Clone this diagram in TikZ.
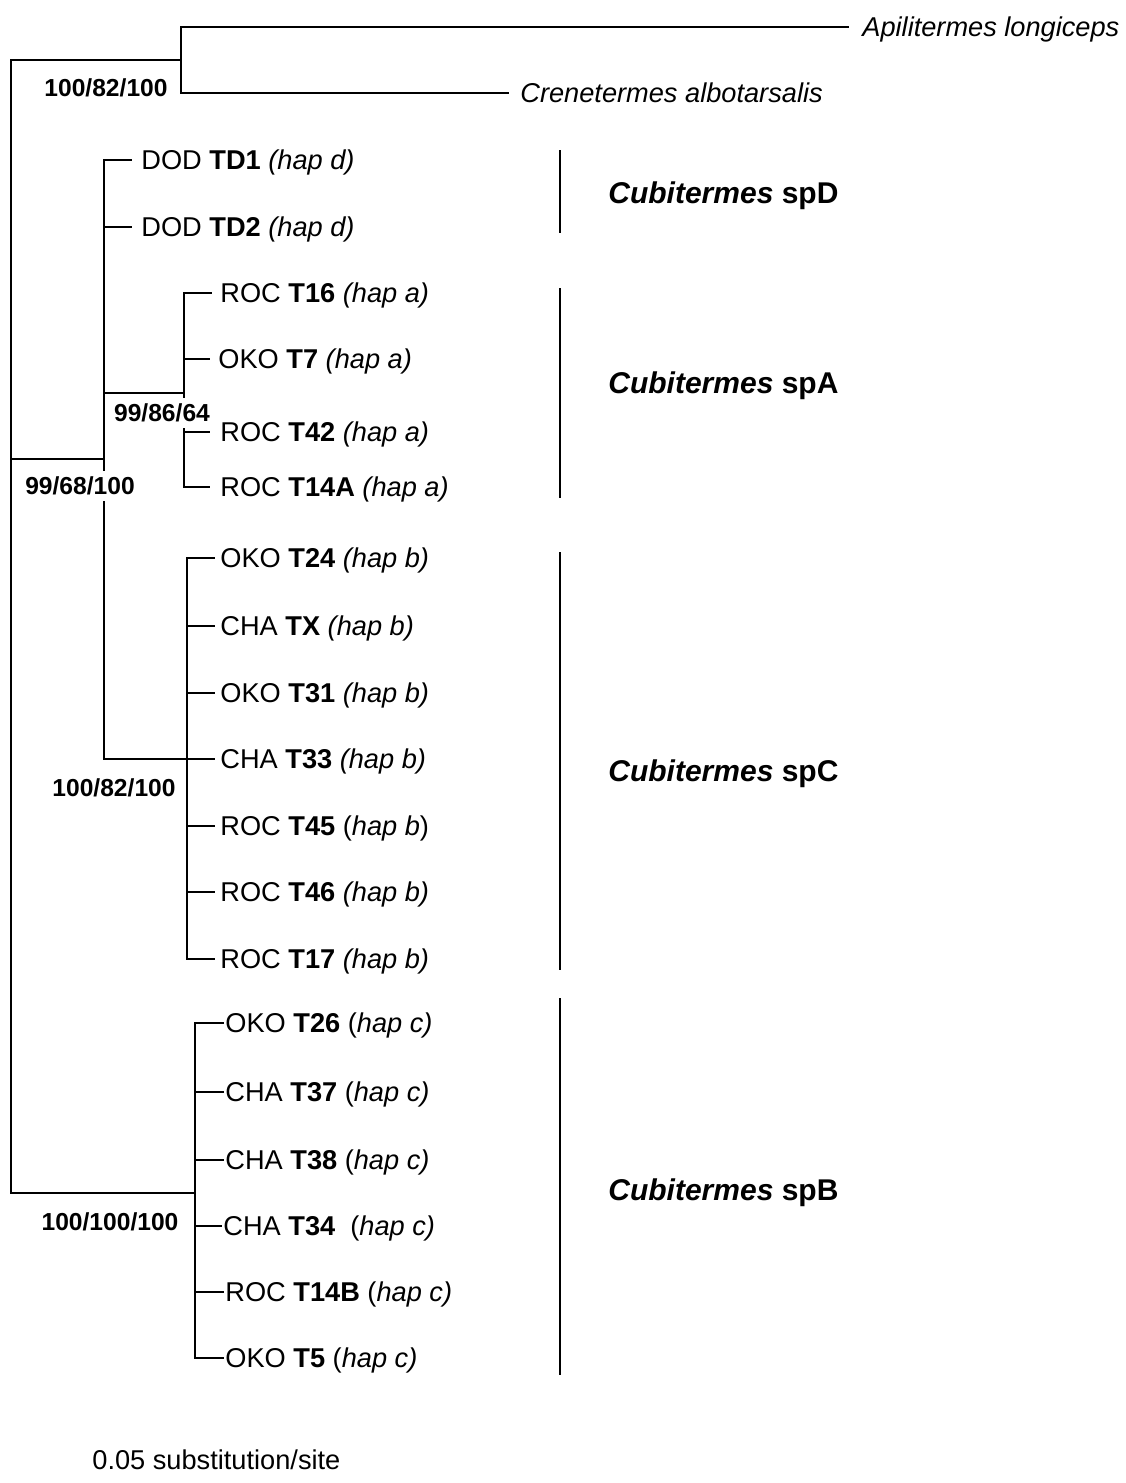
\documentclass[tikz,border=0pt]{standalone}
\usepackage{fontspec}
\setmainfont{Liberation Sans}
\usetikzlibrary{positioning}
\tikzset{branch/.style={line width=1.1pt, line cap=rect}, clade/.style={line width=1.1pt}, taxon/.style={font=\fontsize{13.6}{16}\selectfont, inner sep=0pt, text height=9.8pt, text depth=0pt, anchor=west}, boot/.style={font=\fontsize{12.3}{14}\selectfont\bfseries, fill=white, inner xsep=1pt, inner ysep=3pt, text height=8.8pt, text depth=0pt}, spname/.style={font=\fontsize{15}{18}\selectfont\bfseries, inner sep=0pt, text height=10.8pt, text depth=0pt, anchor=west}}

\begin{document}
\begin{tikzpicture}[x=0.5pt, y=-0.5pt]
\useasboundingbox (0,0) rectangle (1125,1483);
% inner nodes of the tree
\coordinate (root) at (11,459); \coordinate (out) at (181,60); \coordinate (ing) at (104,459);
\coordinate (nA) at (184,393); \coordinate (nC) at (187,759); \coordinate (nB) at (195,1193);
% branch tips
\coordinate (apiT) at (848,27); \coordinate (creT) at (508,93);
\coordinate (td1T) at (131,160); \coordinate (td2T) at (131,227);
\coordinate (t16T) at (211,293); \coordinate (t7T) at (209,359); \coordinate (t42T) at (209,432); \coordinate (t14aT) at (209,487);
\coordinate (t24T) at (214,558); \coordinate (txT) at (214,626); \coordinate (t31T) at (214,693); \coordinate (t33T) at (214,759);
\coordinate (t45T) at (214,826); \coordinate (t46T) at (214,892); \coordinate (t17T) at (214,959);
\coordinate (t26T) at (223,1023); \coordinate (t37T) at (223,1092); \coordinate (t38T) at (223,1160); \coordinate (t34T) at (221,1226);
\coordinate (t14bT) at (223,1292); \coordinate (t5T) at (223,1358);
% branches
\draw[branch] (root) |- (out); \draw[branch] (root) |- (ing); \draw[branch] (root) |- (nB);
\draw[branch] (out) |- (apiT); \draw[branch] (out) |- (creT);
\draw[branch] (ing) |- (td1T); \draw[branch] (ing) |- (td2T); \draw[branch] (ing) |- (nA); \draw[branch] (ing) |- (nC);
\draw[branch] (nA) |- (t16T); \draw[branch] (nA) |- (t7T); \draw[branch] (nA) |- (t42T); \draw[branch] (nA) |- (t14aT);
\draw[branch] (nC) |- (t24T); \draw[branch] (nC) |- (txT); \draw[branch] (nC) |- (t31T); \draw[branch] (nC) |- (t33T);
\draw[branch] (nC) |- (t45T); \draw[branch] (nC) |- (t46T); \draw[branch] (nC) |- (t17T);
\draw[branch] (nB) |- (t26T); \draw[branch] (nB) |- (t37T); \draw[branch] (nB) |- (t38T); \draw[branch] (nB) |- (t34T);
\draw[branch] (nB) |- (t14bT); \draw[branch] (nB) |- (t5T);
% taxa
\node[taxon, right=7pt of apiT] (api) {\textit{Apilitermes longiceps}};
\node[taxon, right=6pt of creT] (cre) {\textit{Crenetermes albotarsalis}};
\node[taxon, right=5pt of td1T] (td1) {DOD \textbf{TD1} \textit{(hap d)}};
\node[taxon, right=5pt of td2T] (td2) {DOD \textbf{TD2} \textit{(hap d)}};
\node[taxon, right=4.5pt of t16T] (t16) {ROC \textbf{T16} \textit{(hap a)}};
\node[taxon, right=4.5pt of t7T] (t7) {OKO \textbf{T7} \textit{(hap a)}};
\node[taxon, right=5.5pt of t42T] (t42) {ROC \textbf{T42} \textit{(hap a)}};
\node[taxon, right=5.5pt of t14aT] (t14a) {ROC \textbf{T14A} \textit{(hap a)}};
\node[taxon, right=3pt of t24T] (t24) {OKO \textbf{T24} \textit{(hap b)}};
\node[taxon, right=3pt of txT] (tx) {CHA \textbf{TX} \textit{(hap b)}};
\node[taxon, right=3pt of t31T] (t31) {OKO \textbf{T31} \textit{(hap b)}};
\node[taxon, right=3pt of t33T] (t33) {CHA \textbf{T33} \textit{(hap b)}};
\node[taxon, right=3pt of t45T] (t45) {ROC \textbf{T45} (\textit{hap b})};
\node[taxon, right=3pt of t46T] (t46) {ROC \textbf{T46} \textit{(hap b)}};
\node[taxon, right=3pt of t17T] (t17) {ROC \textbf{T17} \textit{(hap b)}};
\node[taxon, right=1pt of t26T] (t26) {OKO \textbf{T26} (\textit{hap c)}};
\node[taxon, right=1pt of t37T] (t37) {CHA \textbf{T37} (\textit{hap c)}};
\node[taxon, right=1pt of t38T] (t38) {CHA \textbf{T38} (\textit{hap c)}};
\node[taxon, right=1pt of t34T] (t34) {CHA \textbf{T34}\ \ (\textit{hap c)}};
\node[taxon, right=1pt of t14bT] (t14b) {ROC \textbf{T14B} (\textit{hap c)}};
\node[taxon, right=1pt of t5T] (t5) {OKO \textbf{T5} (\textit{hap c)}};
% bootstrap values
\node[boot] (bOut) at (106,88) {100/82/100}; \node[boot] (bIng) at (80,486) {99/68/100};
\node[boot] (bA) at (162,413) {99/86/64}; \node[boot] (bC) at (114,788) {100/82/100}; \node[boot] (bB) at (110,1222) {100/100/100};
% species brackets
\draw[clade] (560,150) -- (560,233); \draw[clade] (560,288) -- (560,498); \draw[clade] (560,552) -- (560,970); \draw[clade] (560,998) -- (560,1375);
\node[spname] (spD) at (608,193) {\textit{Cubitermes} spD}; \node[spname] (spA) at (608,383) {\textit{Cubitermes} spA};
\node[spname] (spC) at (608,771) {\textit{Cubitermes} spC}; \node[spname] (spB) at (608,1190) {\textit{Cubitermes} spB};
\node[taxon] (scale) at (92,1460) {0.05 substitution/site};
\end{tikzpicture}
\end{document}
